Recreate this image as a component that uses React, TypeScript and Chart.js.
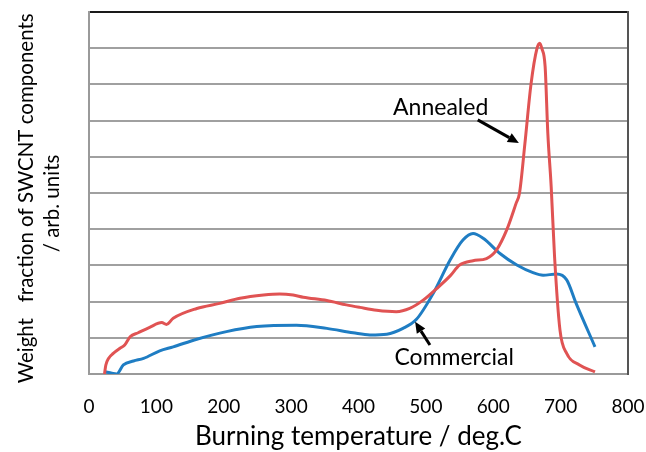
import React, { useEffect, useRef } from "react";
import { Chart, registerables } from "chart.js";

Chart.register(...registerables);

// Annealed SWCNT (red)
const annealedTemp = [23, 25, 29, 36, 46, 53, 61, 73, 90, 108, 115, 125, 160, 194, 224, 259, 283, 303, 318, 353, 382, 402, 427, 456, 476, 496, 516, 536, 550, 570, 590, 605, 620, 634, 639, 647, 656, 665, 669, 672, 677, 681, 686, 691, 699, 709, 728, 751];
const annealedVal = [0, 0.25, 0.43, 0.57, 0.71, 0.8, 1.03, 1.14, 1.29, 1.42, 1.37, 1.54, 1.81, 1.95, 2.09, 2.18, 2.21, 2.18, 2.12, 2.03, 1.91, 1.84, 1.76, 1.72, 1.81, 2.04, 2.36, 2.71, 3.01, 3.13, 3.19, 3.43, 3.98, 4.72, 5.0, 6.37, 8.0, 9.0, 9.14, 9.0, 8.49, 6.65, 5.17, 3.24, 1.22, 0.57, 0.25, 0.06];

// Commercial SWCNT (blue)
const commercialTemp = [24, 34, 41, 51, 66, 81, 105, 125, 160, 204, 249, 308, 353, 392, 417, 442, 466, 486, 511, 536, 555, 570, 585, 610, 635, 659, 674, 694, 709, 723, 751];
const commercialVal = [0.06, 0.02, 0, 0.25, 0.36, 0.43, 0.64, 0.75, 0.96, 1.17, 1.31, 1.35, 1.26, 1.14, 1.08, 1.1, 1.26, 1.51, 2.23, 3.15, 3.7, 3.88, 3.75, 3.33, 3.01, 2.8, 2.73, 2.76, 2.6, 1.95, 0.75];

const xTicks = [0, 100, 200, 300, 400, 500, 600, 700, 800];

// Annotations (data coordinates)
const annotationLabels = ["Annealed", "Commercial"];
const annotationLabelPos = [[522, 7.35], [542, 0.44]];
const annotationArrowFrom = [[577, 7.02], [506, 0.8]];
const annotationArrowTo = [[638, 6.38], [484, 1.44]];

const FONT = "Lato, 'Liberation Sans', sans-serif";

const annotationPlugin = {
  id: "arrowAnnotations",
  afterDatasetsDraw(chart: any) {
    const { ctx, scales } = chart;
    const xs = scales.x;
    const ys = scales.y;
    ctx.save();
    ctx.fillStyle = "#000";
    ctx.strokeStyle = "#000";
    ctx.font = `23px ${FONT}`;
    ctx.textAlign = "center";
    ctx.textBaseline = "middle";
    annotationLabels.forEach((label, i) => {
      const [lt, lv] = annotationLabelPos[i];
      ctx.fillText(label, xs.getPixelForValue(lt), ys.getPixelForValue(lv));
      const [ft, fv] = annotationArrowFrom[i];
      const [tt, tv] = annotationArrowTo[i];
      const x1 = xs.getPixelForValue(ft);
      const y1 = ys.getPixelForValue(fv);
      const x2 = xs.getPixelForValue(tt);
      const y2 = ys.getPixelForValue(tv);
      const ang = Math.atan2(y2 - y1, x2 - x1);
      const headLen = 11;
      const headW = 5;
      const bx = x2 - headLen * Math.cos(ang);
      const by = y2 - headLen * Math.sin(ang);
      ctx.lineWidth = 3;
      ctx.beginPath();
      ctx.moveTo(x1, y1);
      ctx.lineTo(bx, by);
      ctx.stroke();
      ctx.beginPath();
      ctx.moveTo(x2, y2);
      ctx.lineTo(bx + headW * Math.sin(ang), by - headW * Math.cos(ang));
      ctx.lineTo(bx - headW * Math.sin(ang), by + headW * Math.cos(ang));
      ctx.closePath();
      ctx.fill();
    });
    ctx.restore();
  },
};

export default function App() {
  const canvasRef = useRef<HTMLCanvasElement | null>(null);

  useEffect(() => {
    const canvas = canvasRef.current;
    if (!canvas) return;
    const chart = new Chart(canvas, {
      type: "line",
      data: {
        datasets: [
          {
            label: "Annealed",
            data: annealedTemp.map((t, i) => ({ x: t, y: annealedVal[i] })),
            borderColor: "#E05353",
            borderWidth: 3,
            pointRadius: 0,
            cubicInterpolationMode: "monotone",
            fill: false,
          },
          {
            label: "Commercial",
            data: commercialTemp.map((t, i) => ({ x: t, y: commercialVal[i] })),
            borderColor: "#1F7DC3",
            borderWidth: 3,
            pointRadius: 0,
            cubicInterpolationMode: "monotone",
            fill: false,
          },
        ],
      },
      options: {
        animation: false,
        responsive: false,
        maintainAspectRatio: false,
        layout: { padding: { left: 0, top: 12, right: 18, bottom: 0 } },
        plugins: {
          legend: { display: false },
          tooltip: { enabled: false },
        },
        scales: {
          x: {
            type: "linear",
            min: 0,
            max: 800,
            afterBuildTicks: (scale: any) => {
              scale.ticks = xTicks.map((v) => ({ value: v }));
            },
            afterFit: (scale: any) => {
              scale.height = 78;
              scale.paddingLeft = 0;
              scale.paddingRight = 0;
            },
            grid: { display: false, drawTicks: false },
            border: { display: true, color: "#9a9a9a", width: 2 },
            ticks: {
              color: "#000",
              font: { family: FONT, size: 19 },
              padding: 21,
              maxRotation: 0,
              autoSkip: false,
            },
            title: {
              display: true,
              text: "Burning temperature / deg.C",
              color: "#000",
              font: { family: FONT, size: 26 },
              padding: { top: 0, bottom: 0 },
            },
          },
          y: {
            type: "linear",
            min: 0,
            max: 10,
            afterFit: (scale: any) => {
              scale.width = 89;
            },
            ticks: { display: false, stepSize: 1 },
            grid: {
              drawTicks: false,
              lineWidth: 2,
              color: (c: any) => (c.tick && c.tick.value === 10 ? "#1a1a1a" : "#a0a0a0"),
            },
            border: { display: true, color: "#9a9a9a", width: 2 },
            title: {
              display: true,
              text: ["Weight   fraction of SWCNT components  ", "/ arb. units    "],
              color: "#000",
              font: { family: FONT, size: 20.5, lineHeight: 1.25 },
              padding: { top: 14, bottom: 0 },
            },
          },
          y2: {
            type: "linear",
            position: "right",
            min: 0,
            max: 10,
            afterFit: (scale: any) => {
              scale.width = 0;
            },
            ticks: { display: false },
            grid: { display: false, drawTicks: false },
            border: { display: true, color: "#555", width: 2 },
          },
        },
      },
      plugins: [annotationPlugin],
    });
    return () => chart.destroy();
  }, []);

  return (
    <div style={{ position: "fixed", left: 0, top: 0, width: 646, height: 452, background: "#fff" }}>
      <canvas ref={canvasRef} width={646} height={452} style={{ width: 646, height: 452 }} />
    </div>
  );
}
